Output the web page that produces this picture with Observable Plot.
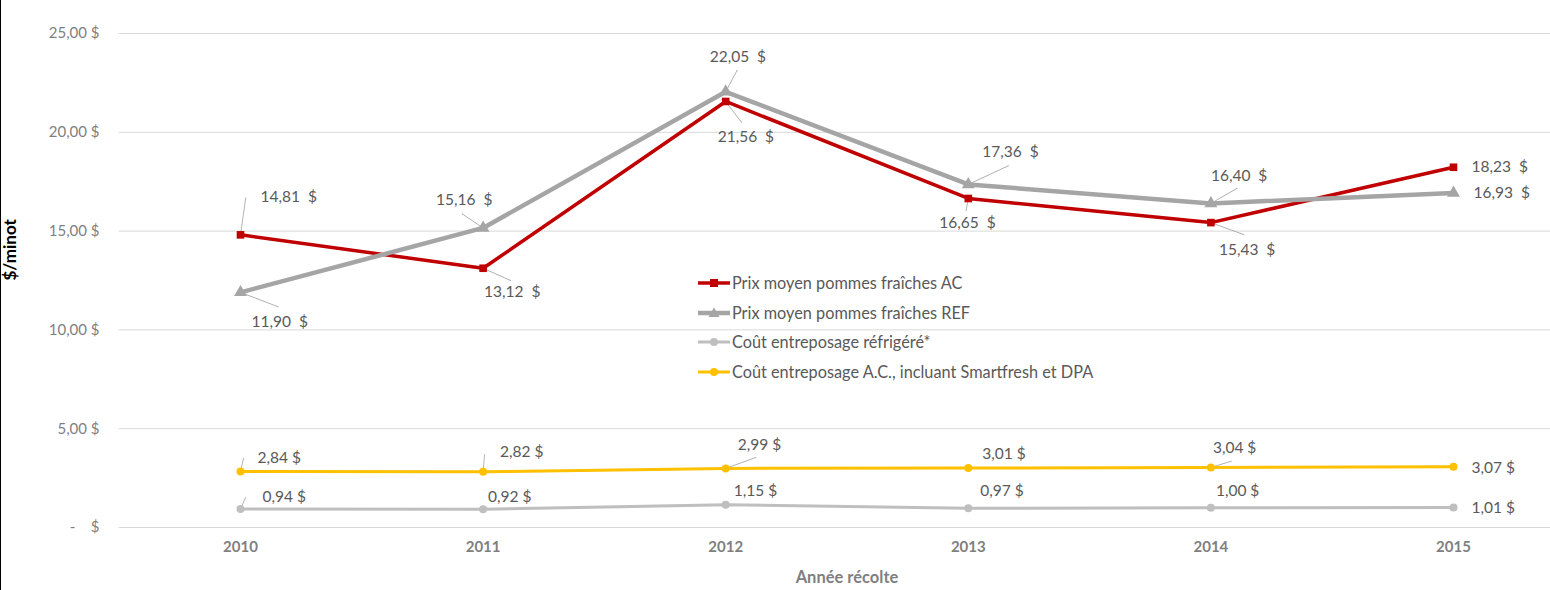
<!DOCTYPE html>
<html><head><meta charset="utf-8">
<script src="https://cdn.jsdelivr.net/npm/d3@7"></script>
<script src="https://cdn.jsdelivr.net/npm/@observablehq/plot@0.6"></script>
<style>
html,body{margin:0;padding:0;background:#fff;overflow:hidden;}
#wrap{position:relative;width:1550px;height:590px;overflow:hidden;font-family:Lato,sans-serif;}
#border{position:absolute;left:0;top:0;width:1px;height:590px;background:#000;}
.lg{position:absolute;left:697px;height:20px;line-height:20px;display:flex;align-items:center;font-size:16.3px;color:#595959;white-space:nowrap;}
.lg svg{display:block;margin-right:1px;}
</style></head><body><div id="wrap"><div id="border"></div></div>
<script>
// ---- data ----
const years = [2010, 2011, 2012, 2013, 2014, 2015];
const seriesNames = [
  "Prix moyen pommes fraîches AC",
  "Prix moyen pommes fraîches REF",
  "Coût entreposage réfrigéré*",
  "Coût entreposage A.C., incluant Smartfresh et DPA"
];
const prixAC = [14.81, 13.12, 21.56, 16.65, 15.43, 18.23];
const prixREF = [11.90, 15.16, 22.05, 17.36, 16.40, 16.93];
const coutRefrig = [0.94, 0.92, 1.15, 0.97, 1.00, 1.01];
const coutAC = [2.84, 2.82, 2.99, 3.01, 3.04, 3.07];
const yTicks = [0, 5, 10, 15, 20, 25];
const xTitle = "Année récolte";
const yTitle = "$/minot";

// ---- styles / layout ----
const seriesValues = [prixAC, prixREF, coutRefrig, coutAC];
const styles = [
  {color: "#C00000", width: 3.5, symbol: "square", r: 4.3, sep: "\u00a0\u00a0"},
  {color: "#A5A5A5", width: 4.5, symbol: "triangle", r: 4.8, sep: "\u00a0\u00a0"},
  {color: "#BFBFBF", width: 3, symbol: "circle", r: 4, sep: "\u00a0"},
  {color: "#FFC000", width: 3, symbol: "circle", r: 4, sep: "\u00a0"}
];
// label offsets [dx, dy] (pixels, text-anchor start, relative to the point)
const labelOffsets = [
  [[20, -38], [1, 24], [-8, 36], [-29, 25], [8, 27], [18, 0]],
  [[11, 30], [-47, -28], [-16, -35], [14, -32], [0, -27], [20, 0]],
  [[22, -12], [5, -12], [8, -14], [12, -17], [5, -17], [18, 0]],
  [[17, -13], [17, -20], [12, -23], [14, -14], [2, -19], [18, 1]]
];
// leader lines [length, rotation°] (null = none)
const leaders = [
  [[37, 8], [30, 114], [26, 143], [12, 190], [35, 110], null],
  [[40, 111], [25, 304], [24, 28], [44, 65], [30, 60], null],
  [[12, 24], null, null, null, null, null],
  [[13, 13], [17, 5], [32, 70], null, [21, 73], null]
];

const fmt = (v, sep) => v.toFixed(2).replace(".", ",") + sep + "$";

const long = [];
seriesValues.forEach((vals, s) => vals.forEach((v, i) => long.push({s, year: years[i], value: v})));

const leaderData = [];
seriesValues.forEach((vals, s) => vals.forEach((v, i) => {
  const L = leaders[s][i];
  if (L) leaderData.push({year: years[i], value: v, len: L[0], rot: L[1]});
}));

const marks = [
  Plot.ruleY(yTicks, {y: d => d, x1: 2009.5, x2: 2015.5, stroke: "#D9D9D9", strokeWidth: 1}),
  Plot.axisY(yTicks, {
    tickSize: 0, tickPadding: 19, label: null, fill: "#7F7F7F", fontSize: 15,
    tickFormat: d => d === 0 ? "-\u00a0\u00a0\u00a0\u00a0$" : d.toFixed(2).replace(".", ",") + "\u00a0$"
  }),
  Plot.axisX(years, {
    tickSize: 0, tickPadding: 14, label: null, fill: "#7F7F7F", fontSize: 15, fontWeight: "bold",
    tickFormat: d => String(d)
  }),
  Plot.vector(leaderData, {
    x: "year", y: "value", length: "len", rotate: "rot", anchor: "start", r: 0,
    stroke: "#A6A6A6", strokeWidth: 0.8
  })
];

[3, 2, 0, 1].forEach(s => {
  const st = styles[s];
  const data = long.filter(d => d.s === s);
  marks.push(Plot.line(data, {x: "year", y: "value", stroke: st.color, strokeWidth: st.width, strokeLinejoin: "round"}));
  marks.push(Plot.dot(data, {x: "year", y: "value", symbol: st.symbol, r: st.r, fill: st.color, stroke: "none"}));
});

seriesValues.forEach((vals, s) => vals.forEach((v, i) => {
  const [dx, dy] = labelOffsets[s][i];
  marks.push(Plot.text([{year: years[i], value: v}], {
    x: "year", y: "value", text: d => fmt(d.value, styles[s].sep),
    dx, dy, textAnchor: "start", fill: "#595959", fontSize: 15.5
  }));
}));

marks.push(Plot.text([yTitle], {text: d => d, frameAnchor: "left", dx: -108, rotate: -90, fontWeight: "bold", fill: "#000", fontSize: 17}));
marks.push(Plot.text([xTitle], {text: d => d, x: 2012.5, y: 0, dy: 50, fontWeight: "bold", fill: "#7F7F7F", fontSize: 16.5}));

const chart = Plot.plot({
  width: 1550, height: 590,
  marginLeft: 118, marginRight: 0, marginTop: 33, marginBottom: 63,
  style: {fontFamily: "Lato, sans-serif", color: "#595959", background: "transparent"},
  x: {type: "linear", domain: [2009.5, 2015.5], range: [118.7, 1574.3], label: null},
  y: {domain: [0, 25], range: [527, 33], label: null},
  length: {type: "identity"},
  marks
});
const wrap = document.getElementById("wrap");
wrap.insertBefore(chart, wrap.firstChild);

// legend
const rowCenters = [283, 313, 342, 371.5];
seriesNames.forEach((name, s) => {
  const st = styles[s];
  const row = document.createElement("div");
  row.className = "lg";
  row.style.top = (rowCenters[s] - 10) + "px";
  let marker;
  if (st.symbol === "square") marker = `<rect x="13" y="6" width="8" height="8" fill="${st.color}"/>`;
  else if (st.symbol === "triangle") marker = `<path d="M17,4.5 L22.5,14 L11.5,14 Z" fill="${st.color}"/>`;
  else marker = `<circle cx="17" cy="10" r="4" fill="${st.color}"/>`;
  row.innerHTML = `<svg width="34" height="20"><line x1="1" x2="33" y1="10" y2="10" stroke="${st.color}" stroke-width="${st.width}"/>${marker}</svg><span>${name}</span>`;
  wrap.appendChild(row);
});
</script>
</body></html>
